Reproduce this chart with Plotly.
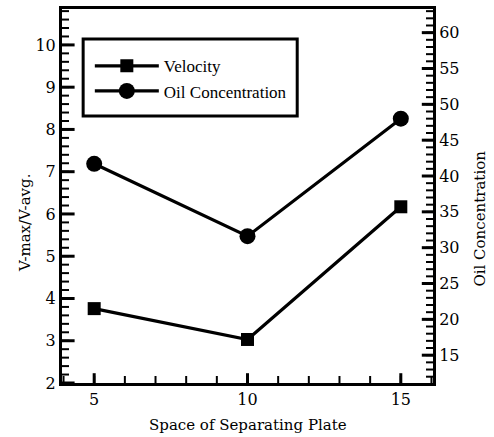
import plotly.graph_objects as go

# Plate spacing and measured results
spacing = [5, 10, 15]
velocity_ratio = [3.76, 3.03, 6.17]        # V-max / V-avg (left axis)
oil_concentration = [41.7, 31.6, 48.0]     # right axis

x_ticks = [5, 10, 15]
left_ticks = [2, 3, 4, 5, 6, 7, 8, 9, 10]
right_ticks = [15, 20, 25, 30, 35, 40, 45, 50, 55, 60]

X_RANGE = [3.95, 16.05]
Y_RANGE = [2, 10.85]
Y2_RANGE = [11.12, 63.3]

# finer tick positions between the labelled ones
x_minor = list(range(4, 17))
left_minor = [round(2 + 0.2 * i, 1) for i in range(45)]
right_minor = list(range(12, 64))

SERIF = "DejaVu Serif"
LEG_FONT = "Liberation Serif"
INK = "#000"

fig = go.Figure()

fig.add_trace(go.Scatter(
    x=spacing, y=velocity_ratio, name="Velocity",
    mode="lines+markers",
    line=dict(color=INK, width=3.2),
    marker=dict(symbol="square", size=13, color=INK),
    xaxis="x", yaxis="y",
))
fig.add_trace(go.Scatter(
    x=spacing, y=oil_concentration, name="Oil Concentration",
    mode="lines+markers",
    line=dict(color=INK, width=3.2),
    marker=dict(symbol="circle", size=16, color=INK),
    xaxis="x", yaxis="y2",
))


def tick_marks(xs, ys, symbol, length, width, yaxis="y"):
    """Tick strokes sitting on a frame edge; the plot-area clip keeps the inner half."""
    fig.add_trace(go.Scatter(
        x=xs, y=ys, mode="markers", yaxis=yaxis,
        marker=dict(symbol=symbol, size=length * 2,
                    line=dict(color=INK, width=width)),
        cliponaxis=True, showlegend=False, hoverinfo="skip",
    ))


# bottom edge
tick_marks(x_minor, [Y_RANGE[0]] * len(x_minor), "line-ns", 5, 2)
tick_marks(x_ticks, [Y_RANGE[0]] * len(x_ticks), "line-ns", 7, 3)
# left edge
tick_marks([X_RANGE[0]] * len(left_minor), left_minor, "line-ew", 5, 2)
tick_marks([X_RANGE[0]] * len(left_ticks), left_ticks, "line-ew", 9, 3)
# right edge (oil concentration scale)
tick_marks([X_RANGE[1]] * len(right_minor), right_minor, "line-ew", 5, 2, yaxis="y2")
tick_marks([X_RANGE[1]] * len(right_ticks), right_ticks, "line-ew", 8, 3, yaxis="y2")

axis_style = dict(
    showgrid=False, zeroline=False,
    showline=True, linecolor=INK, linewidth=3,
    ticks="", tickfont=dict(family=SERIF, size=16),
)

fig.update_layout(
    width=494, height=437,
    margin=dict(l=62, r=61, t=6, b=54),
    paper_bgcolor="white", plot_bgcolor="white",
    font=dict(color=INK),
    showlegend=True,
    legend=dict(
        x=0.075, y=0.895, xanchor="left", yanchor="top",
        bgcolor="rgba(0,0,0,0)",
        font=dict(family=LEG_FONT, size=17),
        itemwidth=64,
    ),
    xaxis=dict(**axis_style, range=X_RANGE, tickvals=x_ticks, mirror=True),
    yaxis=dict(**axis_style, range=Y_RANGE, tickvals=left_ticks),
    yaxis2=dict(**axis_style, range=Y2_RANGE, tickvals=right_ticks,
                overlaying="y", side="right"),
    shapes=[
        # legend frame
        dict(type="rect", xref="paper", yref="paper",
             x0=0.057, x1=0.634, y0=0.714, y1=0.92,
             line=dict(color=INK, width=3), fillcolor="rgba(0,0,0,0)"),
    ],
    annotations=[
        dict(text="Space of Separating Plate", xref="paper", yref="paper",
             x=0.5, y=-0.113, xanchor="center", yanchor="middle", showarrow=False,
             font=dict(family=SERIF, size=15)),
        dict(text="V-max/V-avg.", xref="paper", yref="paper",
             x=-0.1, y=0.43, xanchor="center", yanchor="middle", showarrow=False,
             textangle=-90, font=dict(family=SERIF, size=15)),
        dict(text="Oil Concentration", xref="paper", yref="paper",
             x=1.127, y=0.44, xanchor="center", yanchor="middle", showarrow=False,
             textangle=-90, font=dict(family=SERIF, size=15)),
    ],
)

fig.write_html("out.html")
